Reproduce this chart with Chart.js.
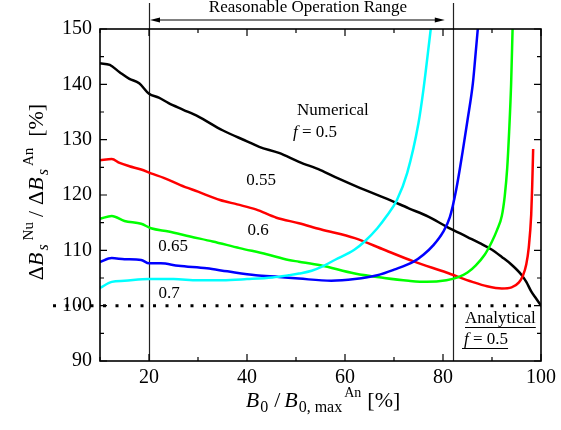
<!DOCTYPE html>
<html>
<head>
<meta charset="utf-8">
<script src="https://cdn.jsdelivr.net/npm/chart.js@4"></script>
<style>
  body { margin: 0; background: #fff; }
  canvas { display: block; }
</style>
</head>
<body>
<canvas id="chart" width="561" height="430"></canvas>
<script>
// data (x = B0/B0,max^An in %, y = ratio in %)
const blackX = [10, 12, 14, 16, 18, 20, 22, 24, 27, 30, 35, 40, 42.5, 46.5, 50.6, 55, 58.6, 63, 68.6, 73, 77, 80.7, 85, 87.5, 90, 92, 94, 96, 97, 98, 99, 100];
const blackY = [143.8, 143.5, 142.2, 141, 140.2, 138.3, 137.6, 136.6, 135.4, 134.2, 131.7, 129.7, 128.7, 127.6, 126.0, 124.5, 123.0, 121.3, 119.3, 117.6, 116.1, 114.3, 112.4, 111.3, 110.1, 108.8, 107.4, 105.6, 104.3, 102.6, 101.3, 100.0];

const redX = [10, 12.4, 14, 16, 18.4, 20.4, 23, 26.4, 30, 34.5, 38, 41.8, 46, 50.6, 55, 62, 68, 74, 80.7, 86, 89, 92, 94, 95.5, 96.3, 97, 97.5, 98, 98.2, 98.4];
const redY = [126.3, 126.5, 125.8, 125.2, 124.6, 123.9, 123.1, 121.8, 120.6, 119.1, 118.3, 117.4, 115.9, 114.9, 113.8, 112.2, 110.1, 108.0, 106.0, 104.3, 103.5, 103.1, 103.3, 104.2, 105.4, 107.5, 110.5, 116.4, 121.5, 128.3];

const greenX = [10, 12.4, 15, 18.4, 20.4, 24, 28.4, 33, 38.5, 44, 48.5, 50.6, 55, 62, 68, 73, 76.7, 80.7, 83, 85, 86.7, 88.5, 90, 91, 92, 92.6, 93.1, 93.5, 93.9, 94.2];
const greenY = [115.7, 116.2, 115.3, 114.8, 114.0, 113.4, 112.5, 111.6, 110.4, 109.3, 108.25, 107.95, 107.3, 105.8, 105.0, 104.5, 104.3, 104.6, 105.1, 106.0, 107.3, 109.2, 111.6, 113.6, 116.2, 119.8, 124.8, 131.5, 140, 150];

const blueX = [10, 12.4, 15, 18.4, 20, 22.4, 26, 31.8, 36, 41.8, 46.5, 50.6, 57.2, 62, 66.6, 70, 74, 76, 78, 80, 81.4, 82.7, 84, 85, 86.1, 86.6, 87.1];
const blueY = [107.9, 108.6, 108.4, 108.25, 107.65, 107.65, 107.2, 106.75, 106.2, 105.5, 105.2, 104.9, 104.5, 104.8, 105.5, 106.5, 107.95, 109.2, 110.9, 113.3, 116.0, 121.0, 127.8, 133.5, 140.2, 145, 150];

const cyanX = [10, 12.4, 15, 20, 25, 30, 35, 40, 45.2, 48.5, 50.6, 53.2, 55.2, 58, 61.9, 64, 66.6, 68.5, 70.6, 72.7, 75, 76, 77.5];
const cyanY = [103.2, 104.3, 104.5, 104.8, 104.8, 104.6, 104.6, 104.8, 105.1, 105.5, 105.8, 106.3, 107.0, 108.3, 110.1, 111.6, 114.0, 116.2, 119.1, 124.0, 133.0, 139.0, 150.0];

const xTickLabels = [20, 40, 60, 80, 100];
const xMinorTicks = [10, 30, 50, 70, 90];
const yTickLabels = [90, 100, 110, 120, 130, 140, 150];
const yMinorTicks = [95, 105, 115, 125, 135, 145];

const rangeStart = 20;
const rangeEnd = 82;
const analyticalLevel = 100;

const serif = '"Liberation Serif", "Times New Roman", serif';

function pts(xs, ys){
  return xs.map((x, i) => ({x: x, y: ys[i]}));
}

function ds(xs, ys, color){
  return {
    data: pts(xs, ys),
    borderColor: color,
    borderWidth: 2.5,
    pointRadius: 0,
    cubicInterpolationMode: 'monotone',
    fill: false
  };
}

// text with italics, sub- and superscripts; dx = extra gap before a piece
function richWidth(ctx, segs){
  let w = 0;
  segs.forEach(s => {
    ctx.font = (s.it ? 'italic ' : '') + s.sz + 'px ' + serif;
    w += (s.dx || 0) + ctx.measureText(s.t).width;
  });
  return w;
}
function drawRich(ctx, segs, x, y){
  let cx = x;
  segs.forEach(s => {
    ctx.font = (s.it ? 'italic ' : '') + s.sz + 'px ' + serif;
    cx += s.dx || 0;
    ctx.fillText(s.t, cx, y + (s.dy || 0));
    cx += ctx.measureText(s.t).width;
  });
}

const yTitle = [
  {t: 'Δ', sz: 22}, {t: 'B', sz: 22, it: true},
  {t: 's', sz: 16, it: true, dy: 5, dx: 2},
  {t: 'Nu', sz: 15, dy: -10, dx: 4},
  {t: '/', sz: 22, dx: 5},
  {t: 'Δ', sz: 22, dx: 6}, {t: 'B', sz: 22, it: true},
  {t: 's', sz: 16, it: true, dy: 5, dx: 2},
  {t: 'An', sz: 15, dy: -10, dx: 3},
  {t: '[%]', sz: 22, dx: 11}
];
const xTitle = [
  {t: 'B', sz: 22, it: true}, {t: '0', sz: 16, dy: 5, dx: 1},
  {t: '/', sz: 22, dx: 6},
  {t: 'B', sz: 22, it: true, dx: 4}, {t: '0, max', sz: 16, dy: 5, dx: 1},
  {t: 'An', sz: 14, dy: -10, dx: 2},
  {t: '[%]', sz: 22, dx: 6}
];

const decor = {
  id: 'decor',
  beforeDatasetsDraw(chart){
    const c = chart.ctx, a = chart.chartArea;
    const xs = chart.scales.x, ys = chart.scales.y;
    c.save();
    // range lines
    c.strokeStyle = '#222';
    c.lineWidth = 1.2;
    [rangeStart, rangeEnd].forEach(v => {
      const px = Math.round(xs.getPixelForValue(v)) + 0.5;
      c.beginPath();
      c.moveTo(px, 3);
      c.lineTo(px, a.bottom);
      c.stroke();
    });
    // analytical level, dotted
    const py = ys.getPixelForValue(analyticalLevel);
    c.strokeStyle = '#000';
    c.lineWidth = 3;
    c.setLineDash([3, 9.5]);
    c.beginPath();
    c.moveTo(53, py);
    c.lineTo(a.right, py);
    c.stroke();
    c.restore();
  },
  afterDraw(chart){
    const c = chart.ctx, a = chart.chartArea;
    const xs = chart.scales.x, ys = chart.scales.y;
    c.save();
    c.strokeStyle = '#000';
    c.fillStyle = '#000';
    // frame
    c.lineWidth = 1.6;
    c.strokeRect(a.left, a.top, a.right - a.left, a.bottom - a.top);
    // inward ticks on all sides
    c.lineWidth = 1.2;
    const tickX = (vals, len) => vals.forEach(v => {
      const px = xs.getPixelForValue(v);
      c.beginPath();
      c.moveTo(px, a.bottom); c.lineTo(px, a.bottom - len);
      c.moveTo(px, a.top); c.lineTo(px, a.top + len);
      c.stroke();
    });
    const tickY = (vals, len) => vals.forEach(v => {
      const py = ys.getPixelForValue(v);
      c.beginPath();
      c.moveTo(a.left, py); c.lineTo(a.left + len, py);
      c.moveTo(a.right, py); c.lineTo(a.right - len, py);
      c.stroke();
    });
    tickX(xTickLabels, 7); tickX(xMinorTicks, 4);
    tickY(yTickLabels, 7); tickY(yMinorTicks, 4);

    // double arrow for operation range
    const x1 = xs.getPixelForValue(rangeStart) + 1;
    const x2 = xs.getPixelForValue(rangeEnd) - 8;
    const ay = 20;
    c.lineWidth = 1;
    c.beginPath();
    c.moveTo(x1 + 4, ay); c.lineTo(x2 - 4, ay);
    c.stroke();
    c.beginPath();
    c.moveTo(x1, ay); c.lineTo(x1 + 10, ay - 2.5); c.lineTo(x1 + 10, ay + 2.5); c.closePath();
    c.moveTo(x2, ay); c.lineTo(x2 - 10, ay - 2.5); c.lineTo(x2 - 10, ay + 2.5); c.closePath();
    c.fill();

    c.textBaseline = 'middle';
    c.textAlign = 'center';
    c.font = '17px ' + serif;
    c.fillText('Reasonable Operation Range', 308, 8);

    // curve labels
    c.fillText('0.55', 261, 181);
    c.fillText('0.6', 258, 231);
    c.fillText('0.65', 173, 247);
    c.fillText('0.7', 169, 294);

    c.textAlign = 'left';
    c.fillText('Numerical', 297, 111);
    drawRich(c, [{t: 'f', sz: 17, it: true}, {t: ' = 0.5', sz: 17}], 293, 133);

    // analytical note, underlined
    c.font = '17px ' + serif;
    c.fillText('Analytical', 465, 319);
    let w = c.measureText('Analytical').width;
    c.lineWidth = 1;
    c.beginPath(); c.moveTo(465, 327.5); c.lineTo(465 + w, 327.5); c.stroke();
    const fSegs = [{t: 'f', sz: 17, it: true}, {t: ' = 0.5', sz: 17}];
    drawRich(c, fSegs, 464, 340);
    w = richWidth(c, fSegs);
    c.beginPath(); c.moveTo(462, 348.5); c.lineTo(464 + w, 348.5); c.stroke();

    // axis titles
    c.textBaseline = 'alphabetic';
    w = richWidth(c, xTitle);
    drawRich(c, xTitle, 323 - w / 2, 407);

    c.translate(43, 192);
    c.rotate(-Math.PI / 2);
    w = richWidth(c, yTitle);
    drawRich(c, yTitle, -w / 2, 0);
    c.restore();
  }
};

new Chart(document.getElementById('chart').getContext('2d'), {
  type: 'line',
  data: {
    datasets: [
      ds(cyanX, cyanY, '#00ffff'),
      ds(blueX, blueY, '#0000ff'),
      ds(greenX, greenY, '#00ff00'),
      ds(redX, redY, '#ff0000'),
      ds(blackX, blackY, '#000000')
    ]
  },
  options: {
    responsive: false,
    animation: false,
    devicePixelRatio: 1,
    layout: { padding: { top: 29, right: 15, left: 0, bottom: 0 } },
    plugins: { legend: { display: false }, tooltip: { enabled: false } },
    scales: {
      x: {
        type: 'linear',
        min: 10,
        max: 100,
        afterBuildTicks: s => { s.ticks = xTickLabels.map(v => ({value: v})); },
        afterFit: s => { s.height = 69; },
        grid: { display: false, drawTicks: false },
        border: { display: false },
        ticks: { color: '#000', font: { family: serif, size: 20 }, padding: 5, maxRotation: 0, autoSkip: false }
      },
      y: {
        type: 'linear',
        min: 90,
        max: 150,
        afterBuildTicks: s => { s.ticks = yTickLabels.map(v => ({value: v})); },
        afterFit: s => { s.width = 100; },
        grid: { display: false, drawTicks: false },
        border: { display: false },
        ticks: { color: '#000', font: { family: serif, size: 20 }, padding: 8 }
      }
    }
  },
  plugins: [decor]
});
</script>
</body>
</html>
